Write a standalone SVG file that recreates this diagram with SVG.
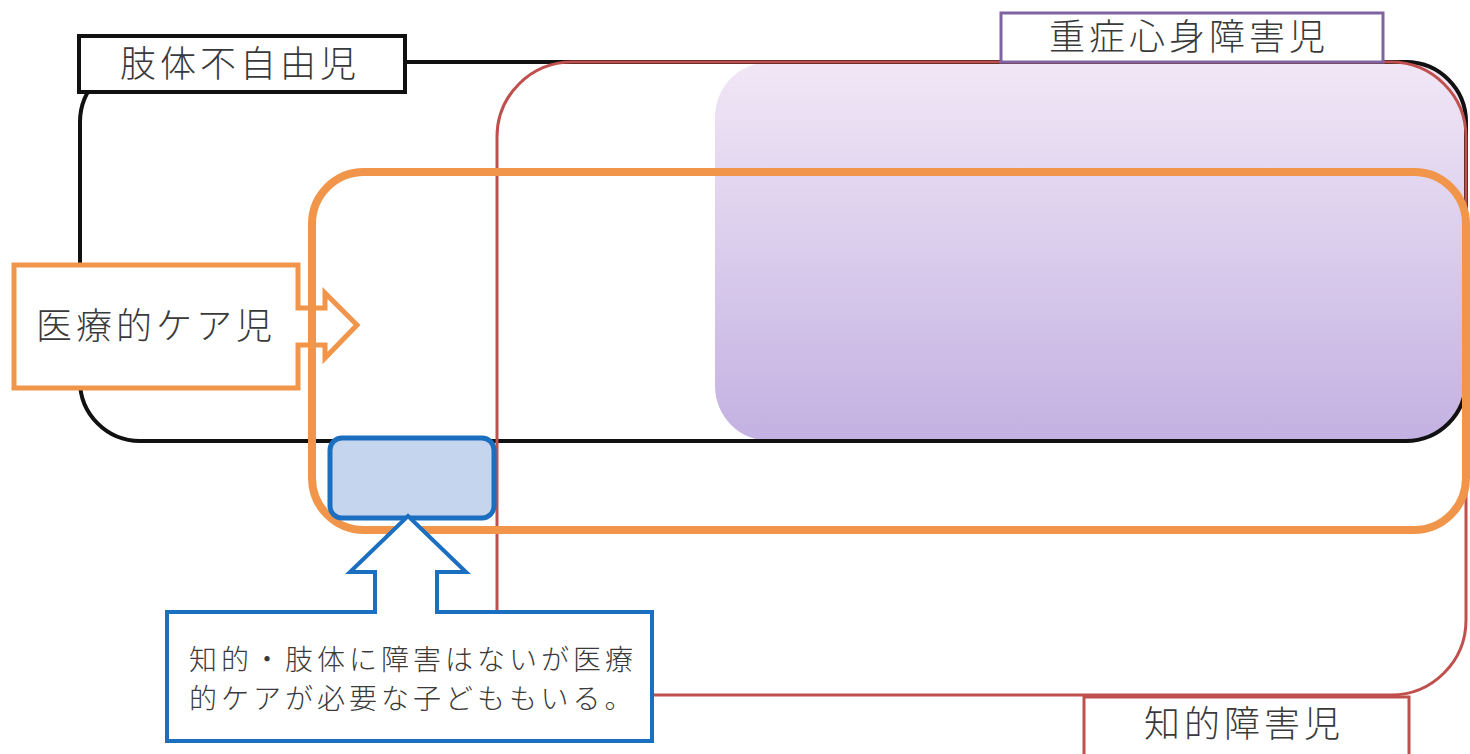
<svg xmlns="http://www.w3.org/2000/svg" width="1470" height="754" viewBox="0 0 1470 754">
<style>
text{font-family:"Noto Sans CJK JP","Noto Sans CJK SC",sans-serif;fill:#3a3a3a;font-weight:300;}
.lbl{font-size:36px;letter-spacing:4px;}
.small{font-size:28px;letter-spacing:4px;}
</style>
<defs>
<linearGradient id="pg" x1="0" y1="0" x2="0" y2="1">
<stop offset="0" stop-color="#f1e7f6"/>
<stop offset="1" stop-color="#c3b1e2"/>
</linearGradient>
</defs>
<rect width="1470" height="754" fill="#fff"/>
<g id="severe-area">
<rect x="715" y="62" width="751" height="379" rx="55" fill="url(#pg)"/>
</g>
<g id="physical">
<rect x="80" y="62" width="1386" height="379" rx="60" fill="none" stroke="#111" stroke-width="4"/>
</g>
<g id="intellectual">
<rect x="497" y="62" width="969" height="633" rx="75" fill="none" stroke="#c0504d" stroke-width="3"/>
</g>
<g id="medical-label">
<path d="M14,265 H298 V308 H325 V293 L357,325 L325,358 V345 H298 V388 H14 Z" fill="#fff" stroke="#f0954a" stroke-width="5" stroke-linejoin="miter"/>
<text x="36" y="339" class="lbl">医療的ケア児</text>
</g>
<g id="medical">
<rect x="312" y="172" width="1154" height="358" rx="52" fill="none" stroke="#f0954a" stroke-width="8"/>
</g>
<g id="medical-only">
<rect x="330" y="438" width="164" height="80" rx="12" fill="#c6d5ee" stroke="#1a6fc0" stroke-width="5"/>
</g>
<g id="note">
<path d="M167,612 H375 V572 H350 L408,516 L466,572 H437 V612 H652 V741 H167 Z" fill="#fff" stroke="#1a6fc0" stroke-width="4"/>
<text x="189" y="670" class="small">知的・肢体に障害はないが医療</text>
<text x="189" y="709" class="small">的ケアが必要な子どももいる。</text>
</g>
<g id="physical-label">
<rect x="79" y="36" width="326" height="56" fill="#fff" stroke="#111" stroke-width="4"/>
<text x="120" y="77" class="lbl">肢体不自由児</text>
</g>
<g id="severe-label">
<rect x="1001" y="13" width="382" height="49" fill="#fff" stroke="#8064a2" stroke-width="3"/>
<text x="1049" y="50" class="lbl">重症心身障害児</text>
</g>
<g id="intellectual-label">
<rect x="1084" y="697" width="325" height="60" fill="#fff" stroke="#c0504d" stroke-width="3"/>
<text x="1144" y="737" class="lbl">知的障害児</text>
</g>
</svg>
